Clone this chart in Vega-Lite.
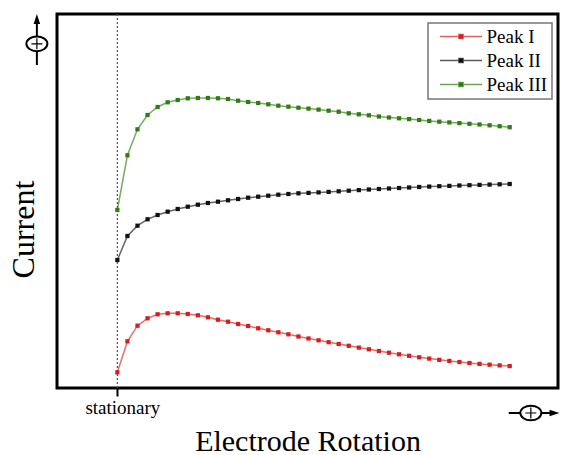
{
  "$schema": "https://vega.github.io/schema/vega-lite/v6.json",
  "width": 501,
  "height": 374,
  "autosize": "none",
  "padding": {"left": 57, "top": 14, "right": 3, "bottom": 67},
  "background": "white",
  "config": {
    "view": {"stroke": "black", "strokeWidth": 3},
    "font": "Liberation Serif"
  },
  "datasets": {
    "peaks": [
      {"rotation": 0, "peak": "Peak I", "current": 15.7}, {"rotation": 1, "peak": "Peak I", "current": 46.7},
      {"rotation": 2, "peak": "Peak I", "current": 62.3}, {"rotation": 3, "peak": "Peak I", "current": 69.7},
      {"rotation": 4, "peak": "Peak I", "current": 73.7}, {"rotation": 5, "peak": "Peak I", "current": 74.7},
      {"rotation": 6, "peak": "Peak I", "current": 74.7}, {"rotation": 7, "peak": "Peak I", "current": 74.0},
      {"rotation": 8, "peak": "Peak I", "current": 72.7}, {"rotation": 9, "peak": "Peak I", "current": 70.7},
      {"rotation": 10, "peak": "Peak I", "current": 68.3}, {"rotation": 11, "peak": "Peak I", "current": 66.3},
      {"rotation": 12, "peak": "Peak I", "current": 64.0}, {"rotation": 13, "peak": "Peak I", "current": 62.0},
      {"rotation": 14, "peak": "Peak I", "current": 59.7}, {"rotation": 15, "peak": "Peak I", "current": 57.7},
      {"rotation": 16, "peak": "Peak I", "current": 55.7}, {"rotation": 17, "peak": "Peak I", "current": 53.7},
      {"rotation": 18, "peak": "Peak I", "current": 51.5}, {"rotation": 19, "peak": "Peak I", "current": 49.5},
      {"rotation": 20, "peak": "Peak I", "current": 47.7}, {"rotation": 21, "peak": "Peak I", "current": 45.8},
      {"rotation": 22, "peak": "Peak I", "current": 44.0}, {"rotation": 23, "peak": "Peak I", "current": 42.2},
      {"rotation": 24, "peak": "Peak I", "current": 40.4}, {"rotation": 25, "peak": "Peak I", "current": 38.7},
      {"rotation": 26, "peak": "Peak I", "current": 37.0}, {"rotation": 27, "peak": "Peak I", "current": 35.3},
      {"rotation": 28, "peak": "Peak I", "current": 33.7}, {"rotation": 29, "peak": "Peak I", "current": 32.2},
      {"rotation": 30, "peak": "Peak I", "current": 30.7}, {"rotation": 31, "peak": "Peak I", "current": 29.4},
      {"rotation": 32, "peak": "Peak I", "current": 28.2}, {"rotation": 33, "peak": "Peak I", "current": 27.1},
      {"rotation": 34, "peak": "Peak I", "current": 26.0}, {"rotation": 35, "peak": "Peak I", "current": 25.0},
      {"rotation": 36, "peak": "Peak I", "current": 24.1}, {"rotation": 37, "peak": "Peak I", "current": 23.3},
      {"rotation": 38, "peak": "Peak I", "current": 22.6}, {"rotation": 39, "peak": "Peak I", "current": 21.9},

      {"rotation": 0, "peak": "Peak II", "current": 128.0}, {"rotation": 1, "peak": "Peak II", "current": 152.0},
      {"rotation": 2, "peak": "Peak II", "current": 162.3}, {"rotation": 3, "peak": "Peak II", "current": 168.7},
      {"rotation": 4, "peak": "Peak II", "current": 173.0}, {"rotation": 5, "peak": "Peak II", "current": 176.3},
      {"rotation": 6, "peak": "Peak II", "current": 179.0}, {"rotation": 7, "peak": "Peak II", "current": 181.3},
      {"rotation": 8, "peak": "Peak II", "current": 183.3}, {"rotation": 9, "peak": "Peak II", "current": 185.0},
      {"rotation": 10, "peak": "Peak II", "current": 186.3}, {"rotation": 11, "peak": "Peak II", "current": 187.7},
      {"rotation": 12, "peak": "Peak II", "current": 189.0}, {"rotation": 13, "peak": "Peak II", "current": 190.3},
      {"rotation": 14, "peak": "Peak II", "current": 191.3}, {"rotation": 15, "peak": "Peak II", "current": 192.3},
      {"rotation": 16, "peak": "Peak II", "current": 193.3}, {"rotation": 17, "peak": "Peak II", "current": 194.0},
      {"rotation": 18, "peak": "Peak II", "current": 194.7}, {"rotation": 19, "peak": "Peak II", "current": 195.1},
      {"rotation": 20, "peak": "Peak II", "current": 195.6}, {"rotation": 21, "peak": "Peak II", "current": 196.1},
      {"rotation": 22, "peak": "Peak II", "current": 196.7}, {"rotation": 23, "peak": "Peak II", "current": 197.3},
      {"rotation": 24, "peak": "Peak II", "current": 197.9}, {"rotation": 25, "peak": "Peak II", "current": 198.5},
      {"rotation": 26, "peak": "Peak II", "current": 199.0}, {"rotation": 27, "peak": "Peak II", "current": 199.5},
      {"rotation": 28, "peak": "Peak II", "current": 200.0}, {"rotation": 29, "peak": "Peak II", "current": 200.5},
      {"rotation": 30, "peak": "Peak II", "current": 201.0}, {"rotation": 31, "peak": "Peak II", "current": 201.4},
      {"rotation": 32, "peak": "Peak II", "current": 201.8}, {"rotation": 33, "peak": "Peak II", "current": 202.1},
      {"rotation": 34, "peak": "Peak II", "current": 202.5}, {"rotation": 35, "peak": "Peak II", "current": 202.8},
      {"rotation": 36, "peak": "Peak II", "current": 203.1}, {"rotation": 37, "peak": "Peak II", "current": 203.4},
      {"rotation": 38, "peak": "Peak II", "current": 203.7}, {"rotation": 39, "peak": "Peak II", "current": 204.0},

      {"rotation": 0, "peak": "Peak III", "current": 178.0}, {"rotation": 1, "peak": "Peak III", "current": 232.7},
      {"rotation": 2, "peak": "Peak III", "current": 258.7}, {"rotation": 3, "peak": "Peak III", "current": 273.0},
      {"rotation": 4, "peak": "Peak III", "current": 281.0}, {"rotation": 5, "peak": "Peak III", "current": 285.7},
      {"rotation": 6, "peak": "Peak III", "current": 288.0}, {"rotation": 7, "peak": "Peak III", "current": 289.7},
      {"rotation": 8, "peak": "Peak III", "current": 290.0}, {"rotation": 9, "peak": "Peak III", "current": 290.0},
      {"rotation": 10, "peak": "Peak III", "current": 289.7}, {"rotation": 11, "peak": "Peak III", "current": 289.0},
      {"rotation": 12, "peak": "Peak III", "current": 287.3}, {"rotation": 13, "peak": "Peak III", "current": 286.0},
      {"rotation": 14, "peak": "Peak III", "current": 285.0}, {"rotation": 15, "peak": "Peak III", "current": 283.7},
      {"rotation": 16, "peak": "Peak III", "current": 282.3}, {"rotation": 17, "peak": "Peak III", "current": 281.3},
      {"rotation": 18, "peak": "Peak III", "current": 280.3}, {"rotation": 19, "peak": "Peak III", "current": 279.4},
      {"rotation": 20, "peak": "Peak III", "current": 278.4}, {"rotation": 21, "peak": "Peak III", "current": 277.3},
      {"rotation": 22, "peak": "Peak III", "current": 276.3}, {"rotation": 23, "peak": "Peak III", "current": 274.7},
      {"rotation": 24, "peak": "Peak III", "current": 273.7}, {"rotation": 25, "peak": "Peak III", "current": 272.7},
      {"rotation": 26, "peak": "Peak III", "current": 271.5}, {"rotation": 27, "peak": "Peak III", "current": 270.5},
      {"rotation": 28, "peak": "Peak III", "current": 269.7}, {"rotation": 29, "peak": "Peak III", "current": 268.9},
      {"rotation": 30, "peak": "Peak III", "current": 268.0}, {"rotation": 31, "peak": "Peak III", "current": 267.1},
      {"rotation": 32, "peak": "Peak III", "current": 266.3}, {"rotation": 33, "peak": "Peak III", "current": 265.6},
      {"rotation": 34, "peak": "Peak III", "current": 264.9}, {"rotation": 35, "peak": "Peak III", "current": 264.2},
      {"rotation": 36, "peak": "Peak III", "current": 263.5}, {"rotation": 37, "peak": "Peak III", "current": 262.7},
      {"rotation": 38, "peak": "Peak III", "current": 261.8}, {"rotation": 39, "peak": "Peak III", "current": 260.8}
    ],
    "shafts": [
      {"rotation": -8, "rotation_end": -8, "current": 323, "current_end": 366},
      {"rotation": 38.9, "rotation_end": 43.0, "current": -25, "current_end": -25}
    ],
    "heads": [
      {"rotation": -8, "current": 369, "dir": "up"},
      {"rotation": 43.45, "current": -25, "dir": "right"}
    ],
    "signs": [
      {"rotation": -8, "current": 344.2},
      {"rotation": 41.1, "current": -25}
    ]
  },
  "encoding": {
    "x": {
      "field": "rotation",
      "type": "quantitative",
      "scale": {"domain": [-6, 43.8], "nice": false, "zero": false},
      "axis": {
        "title": "Electrode Rotation",
        "titleFont": "Liberation Serif",
        "titleFontSize": 30,
        "titleFontWeight": "normal",
        "titleColor": "black",
        "titleY": 62,
        "titleBaseline": "alphabetic",
        "values": [0],
        "labelExpr": "'stationary'",
        "labelFont": "Liberation Serif",
        "labelFontSize": 19,
        "labelColor": "black",
        "labelOffset": 5,
        "labelPadding": 2,
        "tickSize": 8,
        "tickWidth": 2,
        "tickColor": "black",
        "domain": false,
        "grid": false
      }
    },
    "y": {
      "field": "current",
      "type": "quantitative",
      "scale": {"domain": [0, 374], "nice": false, "zero": false},
      "axis": {
        "title": "Current",
        "titleFont": "Liberation Serif",
        "titleFontSize": 32,
        "titleFontWeight": "normal",
        "titleColor": "black",
        "titleX": -24,
        "titleY": 215,
        "titleAngle": -90,
        "titleAlign": "center",
        "titleBaseline": "alphabetic",
        "ticks": false,
        "labels": false,
        "domain": false,
        "grid": false
      }
    }
  },
  "layer": [
    {
      "data": {"values": [{"rotation": 0}]},
      "mark": {"type": "rule", "color": "#555555", "strokeWidth": 1.2, "strokeDash": [2, 2]},
      "encoding": {"y": null}
    },
    {
      "data": {"name": "peaks"},
      "mark": {"type": "line", "strokeWidth": 1.5, "strokeOpacity": 0.65},
      "encoding": {
        "color": {
          "field": "peak",
          "type": "nominal",
          "scale": {"domain": ["Peak I", "Peak II", "Peak III"], "range": ["#d21f1f", "#111111", "#2f7d12"]},
          "legend": {
            "title": null,
            "orient": "none",
            "legendX": 371,
            "legendY": 9,
            "padding": 4,
            "fillColor": "white",
            "strokeColor": "#777777",
            "cornerRadius": 0,
            "symbolType": "M-3,0H3M-0.3,-0.3H0.3V0.3H-0.3Z",
            "symbolSize": 196,
            "symbolStrokeWidth": 1.5,
            "symbolOffset": 19.5,
            "labelFont": "Liberation Serif",
            "labelFontSize": 19,
            "labelColor": "black",
            "labelOffset": 16,
            "rowPadding": 4,
            "encode": {
              "symbols": {"update": {"fill": {"scale": "color", "field": "value"}, "strokeOpacity": {"value": 0.7}}},
              "legend": {"update": {"strokeWidth": {"value": 1.5}}}
            }
          }
        }
      }
    },
    {
      "data": {"name": "peaks"},
      "mark": {"type": "point", "shape": "square", "filled": true, "size": 18, "opacity": 1},
      "encoding": {
        "color": {"field": "peak", "type": "nominal"}
      }
    },
    {
      "data": {"name": "shafts"},
      "mark": {"type": "rule", "color": "black", "strokeWidth": 2},
      "encoding": {
        "x2": {"field": "rotation_end"},
        "y2": {"field": "current_end"}
      }
    },
    {
      "data": {"name": "heads"},
      "mark": {"type": "point", "filled": true, "color": "black", "size": 100, "opacity": 1},
      "encoding": {
        "shape": {
          "field": "dir",
          "type": "nominal",
          "scale": {"domain": ["up", "right"], "range": ["M0,-1L0.65,1L-0.65,1Z", "M1,0L-1,0.65L-1,-0.65Z"]},
          "legend": null
        }
      }
    },
    {
      "data": {"name": "signs"},
      "mark": {"type": "point", "shape": "M-1,0A1,0.7,0,1,0,1,0A1,0.7,0,1,0,-1,0Z", "size": 441, "filled": false, "fill": "white", "fillOpacity": 1, "stroke": "black", "strokeWidth": 2, "opacity": 1}
    },
    {
      "data": {"name": "signs"},
      "mark": {"type": "point", "shape": "M-1,0H1M0,-1V1", "size": 121, "filled": false, "stroke": "black", "strokeWidth": 1.2, "opacity": 1}
    }
  ]
}
